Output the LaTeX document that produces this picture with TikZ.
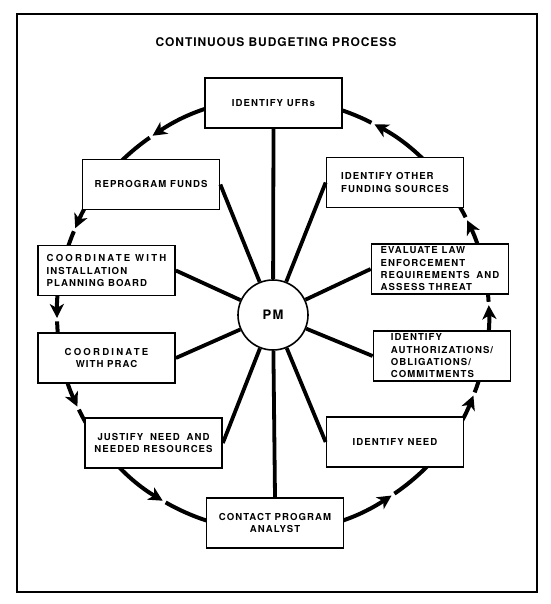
\documentclass[tikz,border=0pt]{standalone}
\usepackage{fontspec}
\setmainfont{TeX Gyre Heros}
\newfontfamily\bxf[LetterSpace=11]{TeX Gyre Heros}
\newfontfamily\wxf[LetterSpace=23]{TeX Gyre Heros}
\newfontfamily\ttlf[LetterSpace=7.5]{TeX Gyre Heros}
\usetikzlibrary{arrows.meta}
\begin{document}
\begin{tikzpicture}[x=1pt,y=1pt,
  box/.style={draw, line width=1.7pt, fill=white, minimum width=137pt, minimum height=50pt, inner sep=0pt,
    font=\bxf\bfseries\fontsize{9.6}{12.3}\selectfont},
  spoke/.style={line width=3.8pt},
  ring/.style={line width=4pt, -{Stealth[length=14pt,width=14pt,inset=4pt]}},
  pmnode/.style={draw, circle, line width=1.6pt, fill=white, minimum size=70pt, inner sep=0pt,
    font=\bxf\bfseries\fontsize{13}{15}\selectfont}
]
\useasboundingbox (0,0) rectangle (550,-604);
\draw[line width=1.2pt] (17,-14) rectangle (537,-592);
\node (title) at (276,-42) {\ttlf\bfseries\fontsize{12}{14}\selectfont CONTINUOUS BUDGETING PROCESS};
\coordinate (c) at (273,-315);
% ring arcs with mid arrows
\foreach \a/\b in {62.0/123.9, 123.9/156.3, 156.3/180.8, 180.8/205.1, 205.1/239.3, 239.3/303.3, 303.3/338.1, 338.1/362.6, 2.6/26.0, 26.0/62.0} {
  \draw[ring] (c) ++(\a+0.9:216) arc[start angle=\a+0.9, end angle=\b, radius=216];
}
% boxes
\node[box] (ufr) at (273.5,-103) {IDENTIFY UFRs};
\node[box, align=center] (rep) at (151,-184.5) {REPROGRAM FUNDS};
\node[box, align=left] (inst) at (106.5,-270.5) {{\wxf\bfseries COORDINATE WITH}\\INSTALLATION\\PLANNING BOARD};
\node[box, align=center] (prac) at (106.5,-358) {\wxf\bfseries COORDINATE\\WITH PRAC};
\node[box, align=center] (just) at (153.5,-443) {JUSTIFY\hspace{3pt} NEED\hspace{3pt} AND\\NEEDED RESOURCES};
\node[box, align=center] (cont) at (275,-523) {CONTACT PROGRAM\\ANALYST};
\node[box] (need) at (395,-442) {IDENTIFY NEED};
\node[box, align=left] (auth) at (442,-356) {IDENTIFY\\AUTHORIZATIONS/\\OBLIGATIONS/\\COMMITMENTS};
\node[box, align=left] (eval) at (440,-269) {EVALUATE LAW\\ENFORCEMENT\\REQUIREMENTS\hspace{3pt} AND\\ASSESS THREAT};
\node[box, align=left] (oth) at (395,-182.5) {IDENTIFY OTHER\\FUNDING SOURCES};
% center
\node[pmnode] (pm) at (c) {PM};
% spokes
\draw[spoke] (pm) -- (ufr.south);
\draw[spoke] (pm) -- (cont.north);
\draw[spoke] (pm) -- (rep.east);
\draw[spoke] (pm) -- (inst.east);
\draw[spoke] (pm) -- (prac.east);
\draw[spoke] (pm) -- (just.east);
\draw[spoke] (pm) -- (need.west);
\draw[spoke] (pm) -- (auth.west);
\draw[spoke] (pm) -- (eval.west);
\draw[spoke] (pm) -- (oth.west);
\end{tikzpicture}
\end{document}
